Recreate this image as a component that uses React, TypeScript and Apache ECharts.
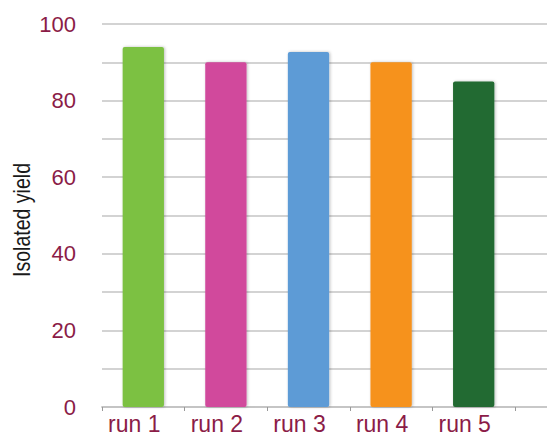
import React, { useEffect, useRef } from "react";
import * as echarts from "echarts";

const categories = ["run 1", "run 2", "run 3", "run 4", "run 5"];
const yields = [94, 90, 92.7, 90, 85];
const barColors = ["#7CC142", "#D1489C", "#5D9BD6", "#F6921E", "#236A31"];
const yTickLabels = [0, 20, 40, 60, 80, 100];

export default function App() {
  const ref = useRef<HTMLDivElement>(null);
  useEffect(() => {
    if (!ref.current) return;
    const chart = echarts.init(ref.current, undefined, { renderer: "svg" });
    const labelColor = "#8B1C47";
    const gridColor = "#C4C4C4";
    chart.setOption({
      animation: false,
      grid: [
        { left: 102, right: 32, top: 24, bottom: 28 },
        { left: 102, right: 0, top: 24, bottom: 28 },
      ],
      xAxis: [
        {
          type: "category",
          gridIndex: 0,
          data: categories,
          axisLine: { show: true, lineStyle: { color: gridColor, width: 1.5 } },
          axisTick: { show: true, interval: 0, length: 4, lineStyle: { color: "#999" } },
          axisLabel: {
            color: labelColor,
            fontSize: 23,
            fontFamily: "Liberation Sans",
            margin: 5,
            interval: 0,
            padding: [0, 18, 0, 0],
          },
          splitLine: { show: false },
        },
        {
          type: "value",
          gridIndex: 1,
          min: 0,
          max: 1,
          axisLine: { show: true, onZero: false, lineStyle: { color: gridColor, width: 1.5 } },
          axisTick: { show: false },
          axisLabel: { show: false },
          splitLine: { show: false },
        },
      ],
      yAxis: [
        {
          type: "value",
          gridIndex: 0,
          min: 0,
          max: 100,
          interval: 20,
          axisLine: { show: false },
          axisTick: { show: false },
          splitLine: { show: false },
          axisLabel: {
            color: labelColor,
            fontSize: 22,
            fontFamily: "Liberation Sans",
            margin: 26,
            formatter: (v: number) => (yTickLabels.includes(v) ? String(v) : ""),
          },
        },
        {
          type: "value",
          gridIndex: 1,
          min: 0,
          max: 100,
          interval: 10,
          axisLine: { show: false },
          axisTick: { show: false },
          axisLabel: { show: false },
          splitLine: { show: true, lineStyle: { color: gridColor, width: 1.5 } },
        },
      ],
      series: [
        {
          type: "bar",
          xAxisIndex: 0,
          yAxisIndex: 0,
          barWidth: "50%",
          z: 5,
          data: yields.map((v, i) => ({
            value: v,
            itemStyle: {
              color: barColors[i],
              shadowColor: "rgba(0,0,0,0.25)",
              shadowBlur: 3,
              shadowOffsetX: 1,
              shadowOffsetY: 0,
              borderRadius: 2,
            },
          })),
        },
      ],
      graphic: [
        {
          type: "text",
          x: 22,
          y: 220,
          rotation: Math.PI / 2,
          scaleX: 0.85,
          style: {
            text: "Isolated yield",
            fill: "#1A1A1A",
            fontSize: 23,
            fontFamily: "Liberation Sans",
            align: "center",
            verticalAlign: "middle",
          },
        },
      ],
    });
    return () => chart.dispose();
  }, []);
  return (
    <div
      ref={ref}
      style={{ position: "absolute", left: 0, top: 0, width: 547, height: 435 }}
    />
  );
}
